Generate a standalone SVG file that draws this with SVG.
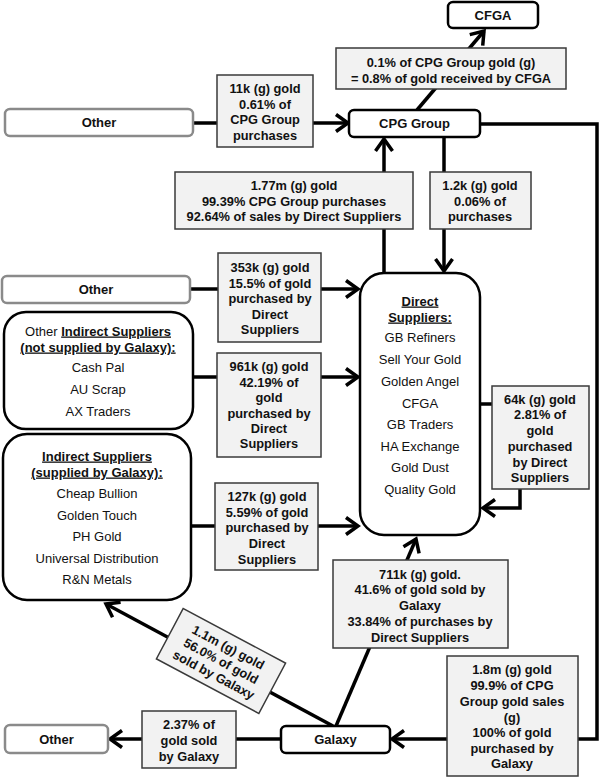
<svg xmlns="http://www.w3.org/2000/svg" width="600" height="777" viewBox="0 0 600 777">
<style>
.lbl rect{fill:#f2f2f2;stroke:#3a3a3a;stroke-width:1.5}
.lbl text{font-family:"Liberation Sans",Arial,sans-serif;font-weight:bold;font-size:12.8px;text-anchor:middle;fill:#111}
.node rect{fill:#fff;stroke:#000;stroke-width:2.5}
.node.grey rect{stroke:#8a8a8a}
.node text{font-family:"Liberation Sans",Arial,sans-serif;font-size:13px;text-anchor:middle;fill:#111}
.b{font-weight:bold}
.u{font-weight:bold;text-decoration:underline}
.conn path{fill:none;stroke:#000;stroke-width:3.5;marker-end:url(#arr)}
</style>
<defs>
<marker id="arr" markerUnits="userSpaceOnUse" viewBox="0 0 17 22" markerWidth="17" markerHeight="22" refX="14" refY="11" orient="auto">
<path d="M2,2.5 L14,11 L2,19.5" fill="none" stroke="#000" stroke-width="3.5"/>
</marker>
</defs>
<rect width="600" height="777" fill="#fff"/>
<g id="connectors" class="conn">
<path d="M193,123 H348"/>
<path d="M417,110 L484,31"/>
<path d="M384,273 V139"/>
<path d="M444,137 V271"/>
<path d="M480,124 H597 V739 H392"/>
<path d="M190,289 H358"/>
<path d="M193,377 H358"/>
<path d="M191,526 H358"/>
<path d="M480,404 H520 V508 H483"/>
<path d="M336,726 L416,539"/>
<path d="M333,726 L106,604"/>
<path d="M281,739 H110"/>
</g>
<g id="lbl-cfga" class="lbl">
<rect x="336" y="48" width="230" height="41"/>
<text x="451" y="66.5">0.1% of CPG Group gold (g)</text>
<text x="451" y="82.5">= 0.8% of gold received by CFGA</text>
</g>
<g id="lbl-11k" class="lbl">
<rect x="217" y="75" width="96" height="72"/>
<text x="265" y="92.5">11k (g) gold</text>
<text x="265" y="108.5">0.61% of</text>
<text x="265" y="123.5">CPG Group</text>
<text x="265" y="139.5">purchases</text>
</g>
<g id="lbl-177m" class="lbl">
<rect x="175" y="172" width="238" height="57"/>
<text x="294" y="189.5">1.77m (g) gold</text>
<text x="294" y="205.5">99.39% CPG Group purchases</text>
<text x="294" y="220.5">92.64% of sales by Direct Suppliers</text>
</g>
<g id="lbl-12k" class="lbl">
<rect x="430" y="172" width="101" height="57"/>
<text x="480" y="189.5">1.2k (g) gold</text>
<text x="480" y="205.5">0.06% of</text>
<text x="480" y="220.5">purchases</text>
</g>
<g id="lbl-353k" class="lbl">
<rect x="218" y="253" width="103" height="89"/>
<text x="270" y="271.5">353k (g) gold</text>
<text x="270" y="287.5">15.5% of gold</text>
<text x="270" y="302.5">purchased by</text>
<text x="270" y="318.5">Direct</text>
<text x="270" y="333.5">Suppliers</text>
</g>
<g id="lbl-961k" class="lbl">
<rect x="217" y="353" width="104" height="104"/>
<text x="269" y="370.5">961k (g) gold</text>
<text x="269" y="386.5">42.19% of</text>
<text x="269" y="401.5">gold</text>
<text x="269" y="417.5">purchased by</text>
<text x="269" y="432.5">Direct</text>
<text x="269" y="447.5">Suppliers</text>
</g>
<g id="lbl-127k" class="lbl">
<rect x="215" y="483" width="103" height="87"/>
<text x="267" y="500.5">127k (g) gold</text>
<text x="267" y="516.5">5.59% of gold</text>
<text x="267" y="531.5">purchased by</text>
<text x="267" y="547.5">Direct</text>
<text x="267" y="563.5">Suppliers</text>
</g>
<g id="lbl-64k" class="lbl">
<rect x="492" y="386" width="97" height="103"/>
<text x="540" y="403.5">64k (g) gold</text>
<text x="540" y="418.5">2.81% of</text>
<text x="540" y="434.5">gold</text>
<text x="540" y="450.5">purchased</text>
<text x="540" y="466.5">by Direct</text>
<text x="540" y="481.5">Suppliers</text>
</g>
<g id="lbl-711k" class="lbl">
<rect x="333" y="560" width="175" height="88"/>
<text x="420" y="578.5">711k (g) gold.</text>
<text x="420" y="593.5">41.6% of gold sold by</text>
<text x="420" y="609.5">Galaxy</text>
<text x="420" y="625.5">33.84% of purchases by</text>
<text x="420" y="641.5">Direct Suppliers</text>
</g>
<g id="lbl-11m" class="lbl" transform="translate(221,661) rotate(28)">
<rect x="-58" y="-28.5" width="116" height="57"/>
<text x="0" y="-11">1.1m (g) gold</text>
<text x="0" y="4.5">56.0% of gold</text>
<text x="0" y="20">sold by Galaxy</text>
</g>
<g id="lbl-237" class="lbl">
<rect x="142" y="711" width="94" height="57"/>
<text x="189" y="728.5">2.37% of</text>
<text x="189" y="744.5">gold sold</text>
<text x="189" y="760.5">by Galaxy</text>
</g>
<g id="lbl-18m" class="lbl">
<rect x="447" y="656" width="131" height="120"/>
<text x="512" y="673.5">1.8m (g) gold</text>
<text x="512" y="689.5">99.9% of CPG</text>
<text x="512" y="705.5">Group gold sales</text>
<text x="512" y="721.5">(g)</text>
<text x="512" y="736.5">100% of gold</text>
<text x="512" y="752.5">purchased by</text>
<text x="512" y="767.5">Galaxy</text>
</g>
<g id="node-cfga" class="node">
<rect x="448" y="2" width="90" height="26" rx="5"/>
<text class="b" x="493" y="19.5">CFGA</text>
</g>
<g id="node-other-top" class="node grey">
<rect x="5" y="109" width="188" height="27" rx="5"/>
<text class="b" x="99" y="127">Other</text>
</g>
<g id="node-cpg" class="node">
<rect x="349" y="110" width="131" height="27" rx="5"/>
<text class="b" x="414.5" y="128">CPG Group</text>
</g>
<g id="node-other-mid" class="node grey">
<rect x="2" y="276" width="188" height="27" rx="5"/>
<text class="b" x="96" y="294">Other</text>
</g>
<g id="node-direct" class="node">
<rect x="360" y="273" width="120" height="262" rx="24"/>
<text class="u" x="420" y="305.5">Direct</text>
<text class="u" x="420" y="321.5">Suppliers:</text>
<text x="420" y="341.5">GB Refiners</text>
<text x="420" y="363.5">Sell Your Gold</text>
<text x="420" y="385.5">Golden Angel</text>
<text x="420" y="407.5">CFGA</text>
<text x="420" y="428.5">GB Traders</text>
<text x="420" y="450.5">HA Exchange</text>
<text x="420" y="471.5">Gold Dust</text>
<text x="420" y="493.5">Quality Gold</text>
</g>
<g id="node-other-indirect" class="node">
<rect x="4" y="312" width="189" height="117" rx="22"/>
<text x="98" y="335.5">Other <tspan class="u">Indirect Suppliers</tspan></text>
<text class="u" x="98" y="351.5">(not supplied by Galaxy):</text>
<text x="98" y="371.5">Cash Pal</text>
<text x="98" y="393.5">AU Scrap</text>
<text x="98" y="415.5">AX Traders</text>
</g>
<g id="node-indirect" class="node">
<rect x="3" y="434" width="188" height="166" rx="24"/>
<text class="u" x="97" y="460.5">Indirect Suppliers</text>
<text class="u" x="97" y="476.5">(supplied by Galaxy):</text>
<text x="97" y="497.5">Cheap Bullion</text>
<text x="97" y="519.5">Golden Touch</text>
<text x="97" y="540.5">PH Gold</text>
<text x="97" y="562.5">Universal Distribution</text>
<text x="97" y="583.5">R&amp;N Metals</text>
</g>
<g id="node-galaxy" class="node">
<rect x="281" y="726" width="109" height="27" rx="5"/>
<text class="b" x="335.5" y="744">Galaxy</text>
</g>
<g id="node-other-bottom" class="node grey">
<rect x="5" y="725" width="103" height="28" rx="5"/>
<text class="b" x="56.5" y="743.5">Other</text>
</g>
</svg>
